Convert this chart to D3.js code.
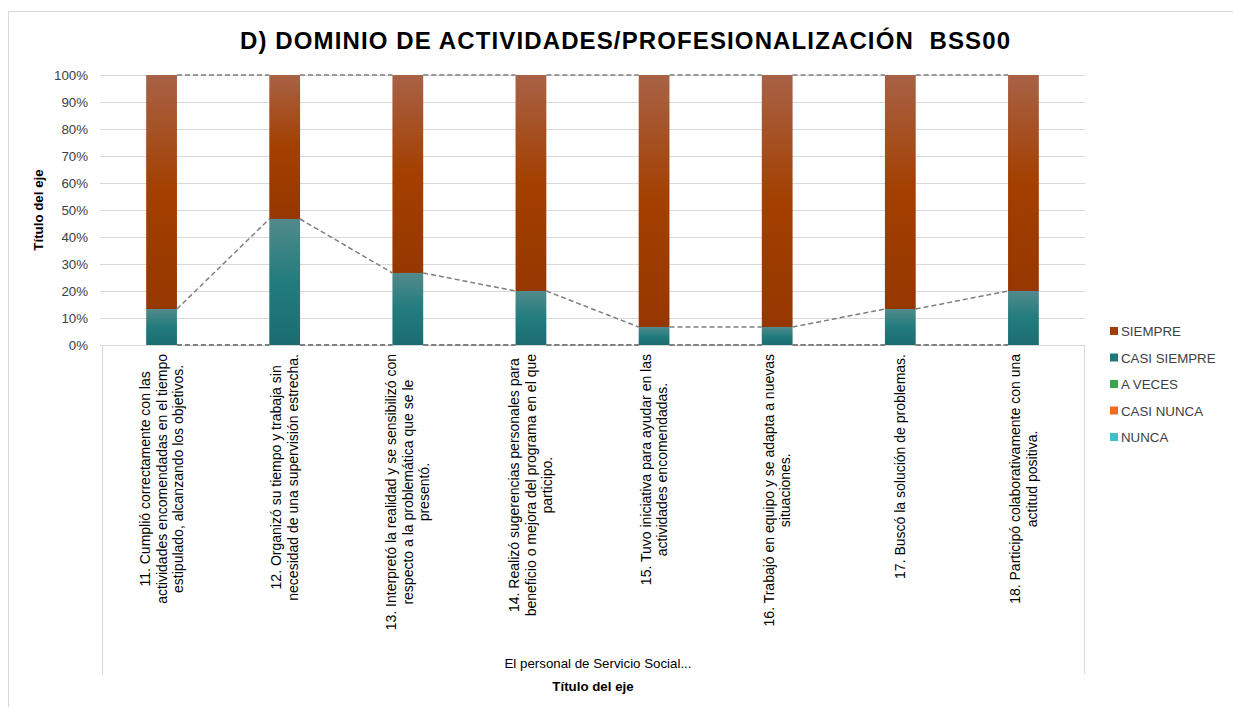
<!DOCTYPE html>
<html>
<head>
<meta charset="utf-8">
<script src="https://cdn.jsdelivr.net/npm/d3@7"></script>
<style>
body { margin: 0; background: #fff; font-family: "Liberation Sans", Arial, sans-serif; }
</style>
</head>
<body>
<div id="chart"></div>
<script>
// datos (porcentaje de respuestas)
var categorias = [
  "11. Cumplió correctamente con las\nactividades encomendadas en el tiempo\nestipulado, alcanzando los objetivos.",
  "12. Organizó su tiempo y trabaja sin\nnecesidad de una supervisión estrecha.",
  "13. Interpretó la realidad y se sensibilizó con\nrespecto a la problemática que se le\npresentó.",
  "14. Realizó sugerencias personales para\nbeneficio o mejora del programa en el que\nparticipo.",
  "15. Tuvo iniciativa para ayudar en las\nactividades encomendadas.",
  "16. Trabajó en equipo y se adapta a nuevas\nsituaciones.",
  "17. Buscó la solución de problemas.",
  "18. Participó colaborativamente con una\nactitud positiva."
];
var nunca       = [0, 0, 0, 0, 0, 0, 0, 0];
var casiNunca   = [0, 0, 0, 0, 0, 0, 0, 0];
var aVeces      = [0, 0, 0, 0, 0, 0, 0, 0];
var casiSiempre = [13.33, 46.67, 26.67, 20, 6.67, 6.67, 13.33, 20];
var siempre     = [86.67, 53.33, 73.33, 80, 93.33, 93.33, 86.67, 80];
var series = ["NUNCA", "CASI NUNCA", "A VECES", "CASI SIEMPRE", "SIEMPRE"];
var yTicks = [0, 10, 20, 30, 40, 50, 60, 70, 80, 90, 100];
var titulo = "D) DOMINIO DE ACTIVIDADES/PROFESIONALIZACIÓN\u00a0 BSS00";
var grupo = "El personal de Servicio Social...";

var colores = {"NUNCA": "#3fbfc9", "CASI NUNCA": "#f26b1d", "A VECES": "#3aa64c", "CASI SIEMPRE": "#25767b", "SIEMPRE": "#9e3f0c"};

var W = 1233, H = 707;
var svg = d3.select("#chart").append("svg").attr("width", W).attr("height", H);

// degradados de las barras
var defs = svg.append("defs");
var gS = defs.append("linearGradient").attr("id", "gSiempre").attr("x1", 0).attr("y1", 0).attr("x2", 0).attr("y2", 1);
gS.append("stop").attr("offset", "0%").attr("stop-color", "#a86246");
gS.append("stop").attr("offset", "50%").attr("stop-color", "#a33f00");
gS.append("stop").attr("offset", "100%").attr("stop-color", "#963700");
var gC = defs.append("linearGradient").attr("id", "gCasi").attr("x1", 0).attr("y1", 0).attr("x2", 0).attr("y2", 1);
gC.append("stop").attr("offset", "0%").attr("stop-color", "#528a8b");
gC.append("stop").attr("offset", "50%").attr("stop-color", "#227c7d");
gC.append("stop").attr("offset", "100%").attr("stop-color", "#1b6c70");
var relleno = {"SIEMPRE": "url(#gSiempre)", "CASI SIEMPRE": "url(#gCasi)"};

// marco del grafico
svg.append("rect").attr("x", 8.5).attr("y", 11.5).attr("width", 1250).attr("height", 720)
  .attr("fill", "none").attr("stroke", "#d9d9d9");

var m = {left: 100, right: 1085, top: 75, bottom: 345};
var x = d3.scaleBand().domain(d3.range(categorias.length)).range([m.left, m.right]).paddingInner(0.75).paddingOuter(0.375);
var y = d3.scaleLinear().domain([0, 100]).range([m.bottom, m.top]);

// titulo
svg.append("text").attr("x", 625).attr("y", 49).attr("text-anchor", "middle")
  .attr("textLength", 770).attr("lengthAdjust", "spacing")
  .style("font-size", "24px").style("font-weight", "bold").attr("fill", "#000").text(titulo);

// rejilla
svg.append("g").selectAll("line").data(yTicks).enter().append("line")
  .attr("x1", m.left).attr("x2", m.right)
  .attr("y1", function(d){ return Math.round(y(d)) + 0.5; }).attr("y2", function(d){ return Math.round(y(d)) + 0.5; })
  .attr("stroke", "#d9d9d9").attr("stroke-width", 1);

// eje y
var yAxis = svg.append("g").attr("transform", "translate(" + m.left + ",0)")
  .call(d3.axisLeft(y).tickValues(yTicks).tickFormat(function(d){ return d + "%"; }).tickSize(0).tickPadding(12));
yAxis.select(".domain").remove();
yAxis.selectAll("text").style("font-size", "13.3px").style("font-family", "'Liberation Sans', Arial, sans-serif").attr("fill", "#404040");

svg.append("text").attr("transform", "translate(43,210) rotate(-90)").attr("text-anchor", "middle")
  .style("font-size", "13.3px").style("font-weight", "bold").attr("fill", "#000").text("Título del eje");

// pila
var tabla = categorias.map(function(c, i){
  return {"NUNCA": nunca[i], "CASI NUNCA": casiNunca[i], "A VECES": aVeces[i], "CASI SIEMPRE": casiSiempre[i], "SIEMPRE": siempre[i]};
});
var pila = d3.stack().keys(series)(tabla);

// caja del eje de categorias
svg.append("path").attr("d", "M102.5,345 V674 M1084.5,345 V674").attr("stroke", "#d9d9d9").attr("fill", "none");
svg.append("line").attr("x1", m.left).attr("x2", m.right).attr("y1", m.bottom + 0.5).attr("y2", m.bottom + 0.5).attr("stroke", "#d9d9d9");

// barras
svg.append("g").selectAll("g").data(pila).enter().append("g")
  .attr("fill", function(d){ return relleno[d.key] || colores[d.key]; })
  .selectAll("rect").data(function(d){ return d; }).enter().append("rect")
  .attr("x", function(d, i){ return x(i); })
  .attr("width", x.bandwidth())
  .attr("y", function(d){ return y(d[1]); })
  .attr("height", function(d){ return y(d[0]) - y(d[1]); });

// lineas de serie
var lineas = svg.append("g").attr("fill", "none").attr("stroke", "#7f7f7f").attr("stroke-width", 1.5).attr("stroke-dasharray", "5,3");
pila.forEach(function(s){
  for (var i = 0; i < s.length - 1; i++) {
    lineas.append("line")
      .attr("x1", x(i) + x.bandwidth()).attr("x2", x(i + 1))
      .attr("y1", y(s[i][1])).attr("y2", y(s[i + 1][1]));
  }
});

// etiquetas de categorias (giradas, centradas)
var etq = svg.append("g").style("font-size", "14px").attr("fill", "#000");
categorias.forEach(function(c, i){
  var lineasTxt = c.split("\n");
  var cx = x(i) + x.bandwidth() / 2;
  var g = etq.append("g");
  var t = g.append("text").attr("text-anchor", "middle");
  var n = lineasTxt.length, lh = 16.5;
  lineasTxt.forEach(function(l, k){
    t.append("tspan").attr("x", 0).attr("y", (k - (n - 1) / 2) * lh + 5).text(l);
  });
  var maxL = d3.max(t.selectAll("tspan").nodes(), function(nd){ return nd.getComputedTextLength(); });
  g.attr("transform", "translate(" + cx + "," + (354 + maxL / 2) + ") rotate(-90)");
});

svg.append("text").attr("x", 598).attr("y", 668).attr("text-anchor", "middle")
  .style("font-size", "13.3px").attr("fill", "#000").text(grupo);
svg.append("text").attr("x", 593).attr("y", 691).attr("text-anchor", "middle")
  .style("font-size", "13.3px").style("font-weight", "bold").attr("fill", "#000").text("Título del eje");

// leyenda (orden inverso)
var ley = svg.append("g");
series.slice().reverse().forEach(function(s, k){
  var yy = 331 + k * 26.5;
  ley.append("rect").attr("x", 1110).attr("y", yy - 4).attr("width", 8).attr("height", 8).attr("fill", colores[s]);
  ley.append("text").attr("x", 1121).attr("y", yy + 5).style("font-size", "13.3px").attr("fill", "#404040").text(s);
});
</script>
</body>
</html>
